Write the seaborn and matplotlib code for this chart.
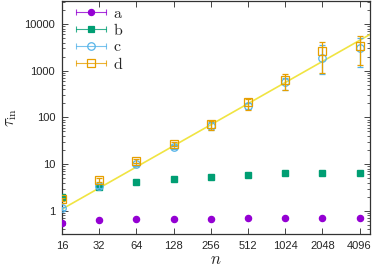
import matplotlib
matplotlib.use("Agg")
import matplotlib.pyplot as plt
import seaborn as sns
import numpy as np
from matplotlib.legend_handler import HandlerBase
from matplotlib.lines import Line2D
from matplotlib.ticker import FixedLocator, LogLocator, NullFormatter

# data
n = [16, 32, 64, 128, 256, 512, 1024, 2048, 4096]
tau_a = [0.56, 0.65, 0.68, 0.67, 0.66, 0.70, 0.70, 0.71, 0.71]
tau_b = [1.95, 3.2, 4.1, 4.8, 5.3, 5.9, 6.5, 6.3, 6.5]
tau_c = [1.12, 3.4, 10.0, 23.5, 64, 175, 570, 1900, 3000]
tau_c_lo = [1.06, 3.1, 9.3, 21.5, 53, 150, 390, 860, 1200]
tau_c_hi = [1.2, 3.7, 10.8, 26, 80, 200, 700, 3500, 5000]
tau_d = [1.75, 4.6, 11.8, 27.5, 74, 215, 640, 2600, 3450]
tau_d_lo = [1.6, 4.2, 10.6, 25, 55, 145, 390, 900, 1340]
tau_d_hi = [1.9, 5.0, 13.0, 30, 84, 250, 860, 4200, 5600]
labels = ["a", "b", "c", "d"]
tick_labels = [str(v) for v in n]

# power law fit tau = A * n^k
fit_amp = 0.017
fit_exp = 1.5
fit_n = [16, 5000]

colors = ["#9400d3", "#009e73", "#56b4e9", "#e69f00"]
fit_color = "#f0e442"

sns.set_style("ticks")
plt.rcParams["font.family"] = ["Liberation Sans", "DejaVu Sans"]
plt.rcParams["mathtext.fontset"] = "cm"
plt.rcParams["xtick.direction"] = "in"
plt.rcParams["ytick.direction"] = "in"

fig = plt.figure(figsize=(3.74, 2.67), dpi=100)
ax = fig.add_axes([0.166, 0.124, 0.823, 0.872])

# fit line
fit_tau = [fit_amp * v ** fit_exp for v in fit_n]
sns.lineplot(x=fit_n, y=fit_tau, color=fit_color, lw=1.2, ax=ax, zorder=1)


def err(vals, lo, hi):
    vals = np.array(vals)
    return [vals - np.array(lo), np.array(hi) - vals]


ax.errorbar(n, tau_a, fmt="o", color=colors[0], ms=4.4, zorder=3)
ax.errorbar(n, tau_b, fmt="s", color=colors[1], ms=4.9, zorder=3)
ax.errorbar(n, tau_c, yerr=err(tau_c, tau_c_lo, tau_c_hi), fmt="o", color=colors[2],
            mfc="none", ms=5.4, mew=0.9, elinewidth=0.9, capsize=2, capthick=0.9, zorder=4)
ax.errorbar(n, tau_d, yerr=err(tau_d, tau_d_lo, tau_d_hi), fmt="s", color=colors[3],
            mfc="none", ms=6, mew=0.9, elinewidth=0.9, capsize=2, capthick=0.9, zorder=5)

ax.set_xscale("log", base=2)
ax.set_yscale("log")
ax.set_xlim(16, 4970)
ax.set_ylim(0.32, 31000)
ax.xaxis.set_major_locator(FixedLocator(n))
ax.set_xticklabels(tick_labels)
ax.xaxis.set_minor_locator(FixedLocator([]))
ax.yaxis.set_major_locator(FixedLocator([1, 10, 100, 1000, 10000]))
ax.set_yticklabels(["1", "10", "100", "1000", "10000"])
ax.yaxis.set_minor_locator(LogLocator(base=10, subs=np.arange(2, 10)))
ax.yaxis.set_minor_formatter(NullFormatter())
ax.tick_params(which="both", top=True, right=True, labelsize=8, color="#444444")
ax.tick_params(which="major", length=4, width=0.7, pad=5)
ax.tick_params(which="minor", length=2, width=0.6)
for s in ax.spines.values():
    s.set_linewidth(0.9)
    s.set_color("#333333")

ax.set_xlabel("$n$", fontsize=12, labelpad=1)
ax.set_ylabel(r"$\tau_{\rm in}$", fontsize=12, labelpad=4)


class ErrKey(HandlerBase):
    def create_artists(self, legend, orig, xd, yd, width, height, fontsize, trans):
        y = height / 2 - yd
        x0, x1 = -xd, width - xd
        col = orig.get_color()
        line = Line2D([x0, x1], [y, y], color=col, lw=0.8, alpha=0.8)
        caps = Line2D([x0, x1], [y, y], ls="none", marker="|", ms=4, mew=0.8, color=col, alpha=0.8)
        mk = Line2D([(x0 + x1) / 2], [y], ls="none", marker=orig.get_marker(),
                    ms=orig.get_markersize(), color=col, mfc=orig.get_markerfacecolor(), mew=0.9)
        for a in (line, caps, mk):
            a.set_transform(trans)
        return [line, caps, mk]


markers = ["o", "s", "o", "s"]
fills = [colors[0], colors[1], "none", "none"]
sizes = [4.4, 4.9, 5.4, 6]
handles = [Line2D([], [], color=c, marker=m, mfc=f, ms=s)
           for c, m, f, s in zip(colors, markers, fills, sizes)]
ax.legend(handles, [f"$\\mathrm{{{l}}}$" for l in labels], handler_map={Line2D: ErrKey()},
          loc="upper left", bbox_to_anchor=(0.044, 0.98), frameon=False, fontsize=11.5,
          borderpad=0, borderaxespad=0, handlelength=1.9, handletextpad=0.45, labelspacing=0.08)

fig.savefig("out.png", dpi=100)
